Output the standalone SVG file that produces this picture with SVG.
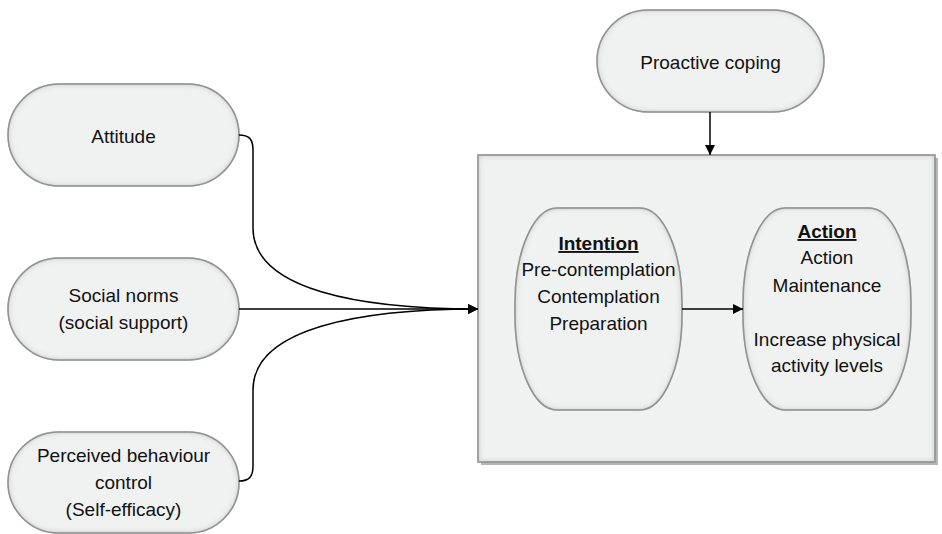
<svg xmlns="http://www.w3.org/2000/svg" width="942" height="534" viewBox="0 0 942 534">
<defs>
<filter id="inset" x="-5%" y="-5%" width="110%" height="110%">
<feFlood flood-color="#a8a8a8"/>
<feComposite in2="SourceAlpha" operator="out"/>
<feGaussianBlur stdDeviation="3"/>
<feComposite in2="SourceAlpha" operator="in" result="sh"/>
<feMerge><feMergeNode in="SourceGraphic"/><feMergeNode in="sh"/></feMerge>
</filter>
<marker id="arr" viewBox="0 0 10 10" refX="10" refY="5" markerWidth="10" markerHeight="10" markerUnits="userSpaceOnUse" orient="auto">
<path d="M0,0 L10,5 L0,10 Z" fill="#000"/>
</marker>
</defs>
<style>
.shape{fill:#f0f1f1;stroke:#7f7f7f;stroke-width:1.5;filter:url(#inset)}
.t{font-family:"Liberation Sans",Arial,sans-serif;font-size:19px;fill:#111;text-anchor:middle}
.h{font-weight:bold;text-decoration:underline}
.c{fill:none;stroke:#000;stroke-width:1.5}
</style>
<rect width="942" height="534" fill="#fff"/>

<g id="stage-box">
<rect x="481" y="158" width="457" height="307" fill="#b5b5b5"/>
<rect x="478" y="155" width="457" height="307" class="shape"/>
</g>

<g id="attitude">
<rect x="8" y="84" width="231" height="102" rx="51" ry="51" class="shape"/>
<text class="t" x="123.5" y="143">Attitude</text>
</g>

<g id="social-norms">
<rect x="8" y="258" width="231" height="102" rx="51" ry="51" class="shape"/>
<text class="t" x="123.5" y="302">Social norms</text>
<text class="t" x="123.5" y="329">(social support)</text>
</g>

<g id="perceived-control">
<rect x="8" y="432" width="231" height="101" rx="50.5" ry="50.5" class="shape"/>
<text class="t" x="123.5" y="462">Perceived behaviour</text>
<text class="t" x="123.5" y="489">control</text>
<text class="t" x="123.5" y="516">(Self-efficacy)</text>
</g>

<g id="proactive-coping">
<rect x="597" y="10" width="227" height="102" rx="51" ry="51" class="shape"/>
<text class="t" x="710.5" y="69">Proactive coping</text>
</g>

<g id="intention">
<rect x="515" y="208" width="167" height="202" rx="42" ry="95" class="shape"/>
<text class="t h" x="598.5" y="250">Intention</text>
<text class="t" x="598.5" y="276">Pre-contemplation</text>
<text class="t" x="598.5" y="303">Contemplation</text>
<text class="t" x="598.5" y="330">Preparation</text>
</g>

<g id="action">
<rect x="743" y="208" width="168" height="202" rx="42" ry="95" class="shape"/>
<text class="t h" x="827" y="238">Action</text>
<text class="t" x="827" y="264">Action</text>
<text class="t" x="827" y="292">Maintenance</text>
<text class="t" x="827" y="346">Increase physical</text>
<text class="t" x="827" y="372">activity levels</text>
</g>

<g id="connectors">
<path class="c" d="M239,135 C249,135 253,139 253,150 L253,228 C253,290 360,309 478,309" marker-end="url(#arr)"/>
<path class="c" d="M239,309 L478,309" marker-end="url(#arr)"/>
<path class="c" d="M239,481 C249,481 253,477 253,466 L253,390 C253,328 360,309 478,309" marker-end="url(#arr)"/>
<path class="c" d="M710,112 L710,155" marker-end="url(#arr)"/>
<path class="c" d="M682,309 L743,309" marker-end="url(#arr)"/>
</g>
</svg>
